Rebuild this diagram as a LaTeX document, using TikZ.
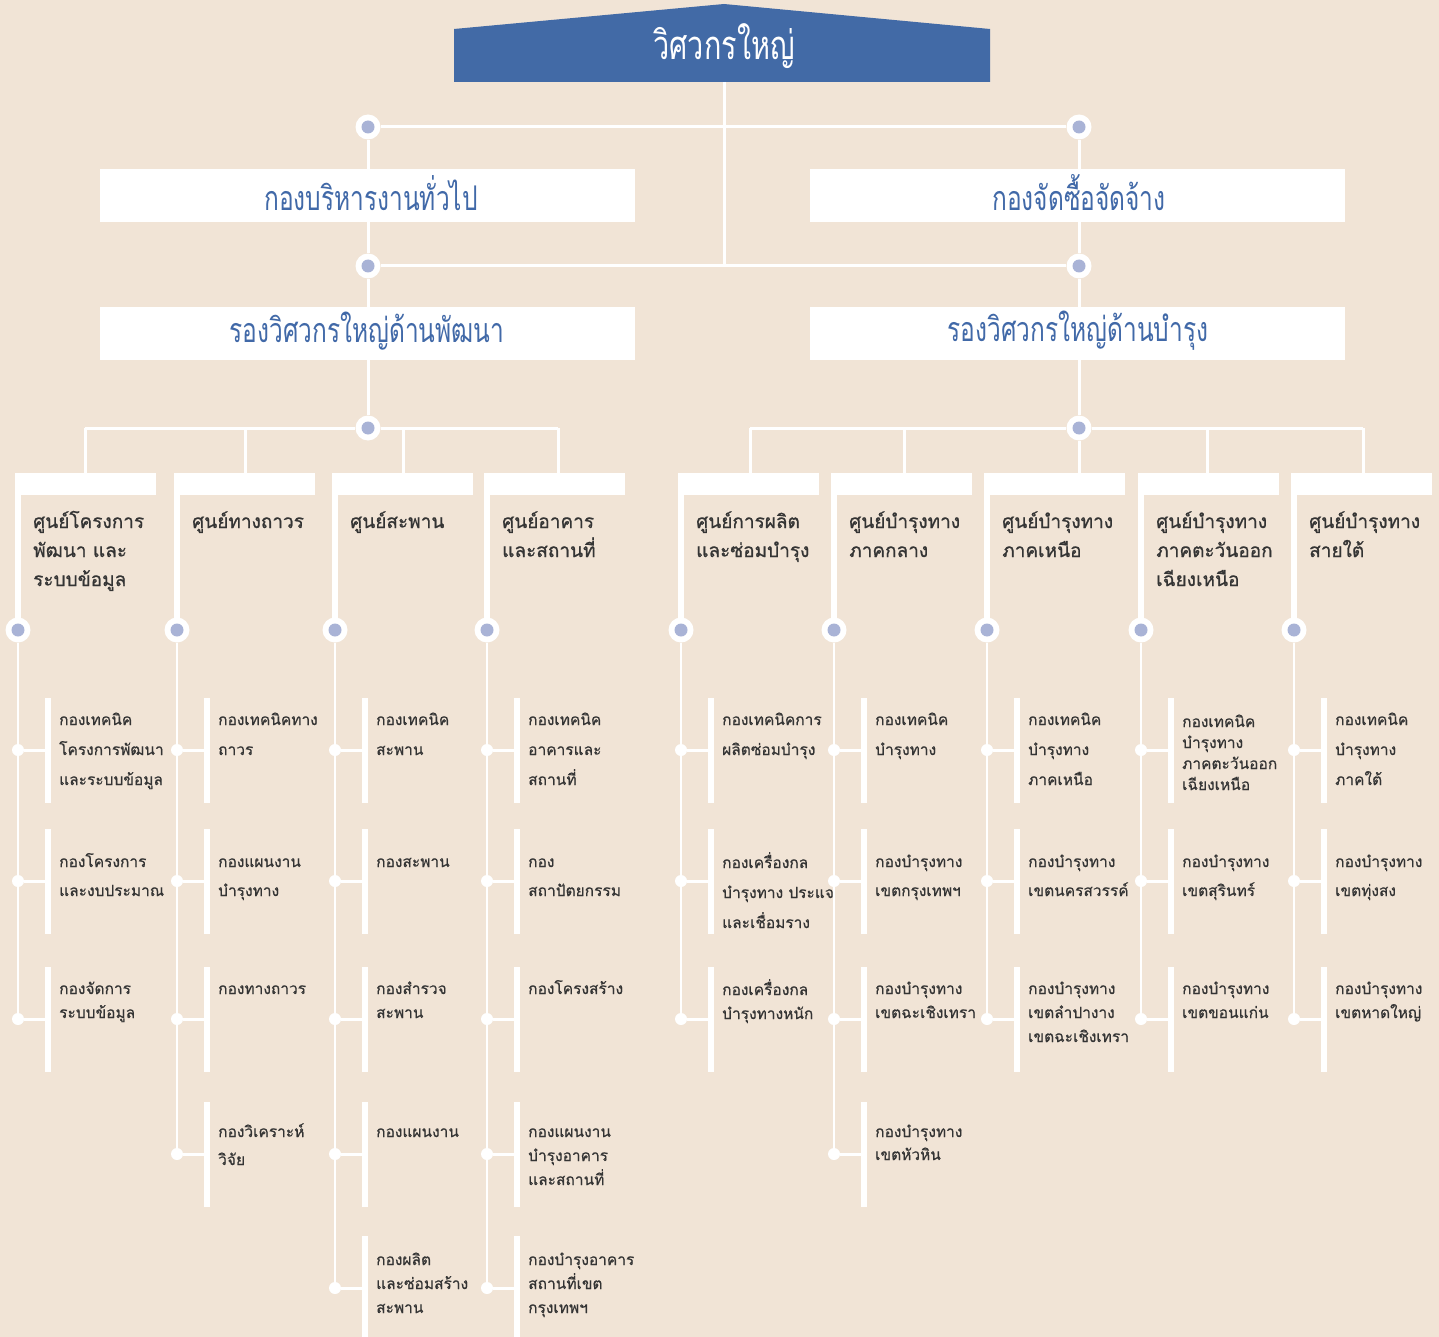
\documentclass[tikz,border=0pt]{standalone}
\usepackage{fontspec}
\newfontfamily\thai[Script=Thai,FakeBold=0.6]{Loma}
\newfontfamily\thaihead[Script=Thai,FakeBold=0.9]{Loma}
\newfontfamily\thaicond[Script=Thai,FakeStretch=0.72]{Loma}
\definecolor{bg}{RGB}{241,228,214}
\definecolor{chiefblue}{RGB}{66,106,166}
\definecolor{txtblue}{RGB}{65,105,168}
\definecolor{dotc}{RGB}{169,179,214}
\definecolor{txtdark}{RGB}{52,52,52}
\tikzset{
  link/.style={draw=white, line width=3pt},
  thinlink/.style={draw=white, line width=2.5pt},
  bigdot/.style={circle, fill=white, minimum size=25pt, inner sep=0pt,
    path picture={\fill[dotc] (path picture bounding box.center) circle (6.5pt);}},
  smalldot/.style={circle, fill=white, minimum size=12pt, inner sep=0pt},
  mainbox/.style={rectangle, fill=white, minimum width=535pt, minimum height=53pt,
    inner sep=0pt, text=txtblue},
  boxtext/.style={inner sep=0pt, text=txtblue, font=\thaicond\fontsize{34pt}{40pt}\selectfont},
  topbar/.style={rectangle, fill=white, minimum width=141pt, minimum height=22pt, inner sep=0pt},
  kidbar/.style={rectangle, fill=white, minimum width=6pt, minimum height=105pt, inner sep=0pt},
  headtext/.style={anchor=base west, inner sep=0pt, text=txtdark},
  kidtext/.style={anchor=base west, inner sep=0pt, text=txtdark},
}
% column header: name, left x, text
\newcommand\colhead[3]{%
  \node[topbar] (#1) at (#2+70.5,484) {};
  \fill[white] (#2,473) rectangle (#2+6,622);
  \node[bigdot] (#1d) at (#2+3,630) {};
  \node[headtext] (#1t) at (#2+18,528)
    {\parbox[t]{140pt}{\raggedright\thaihead\fontsize{19pt}{29pt}\selectfont #3}};
}
% child: name, left x, junction y, first baseline y, line skip, text
\newcommand\kid[6]{%
  \node[kidbar] (#1b) at (#2+33,#3) {};
  \node[smalldot] (#1) at (#2+3,#3) {};
  \draw[link] (#1) -- (#1b);
  \node[kidtext] (#1t) at (#2+44,#4)
    {\parbox[t]{150pt}{\raggedright\thai\fontsize{15.5pt}{#5pt}\selectfont #6}};
}
\begin{document}
\begin{tikzpicture}[x=1pt,y=-1pt]
\useasboundingbox (0,0) rectangle (1439,1337);
\fill[bg] (0,0) rectangle (1439,1337);

% chief
\fill[chiefblue] (454,82) -- (454,29) -- (724,4) -- (990,29) -- (990,82) -- cycle;
\node[text=white, font=\thaicond\fontsize{40pt}{46pt}\selectfont, inner sep=0pt] (chief) at (724,46) {วิศวกรใหญ่};
\coordinate (chiefbot) at (724,82);
\coordinate (midB) at (724,266);

% level dots and boxes
\node[bigdot] (dA1) at (368,127) {};
\node[bigdot] (dA2) at (1079,127) {};
\node[mainbox] (adm) at (367.5,195.5) {};
\node[mainbox] (proc) at (1077,195.5) {};
\node[boxtext] (admt) at (371,193) {กองบริหารงานทั่วไป};
\node[boxtext] (proct) at (1079,193) {กองจัดซื้อจัดจ้าง};
\node[bigdot] (dB1) at (368,266) {};
\node[bigdot] (dB2) at (1079,266) {};
\node[mainbox] (dev) at (367.5,333.5) {};
\node[mainbox] (mnt) at (1077,333.5) {};
\node[boxtext] (devt) at (367,331) {รองวิศวกรใหญ่ด้านพัฒนา};
\node[boxtext] (mntt) at (1078,331) {รองวิศวกรใหญ่ด้านบำรุง};
\node[bigdot] (dC1) at (368,428) {};
\node[bigdot] (dC2) at (1079,428) {};

\draw[link] (chiefbot) -- (midB);
\draw[link] (dA1) -- (dA2);
\draw[link] (dB1) -- (dB2);
\draw[link] (dA1) -- (dA1 |- adm.north);
\draw[link] (dA1 |- adm.south) -- (dB1);
\draw[link] (dB1) -- (dB1 |- dev.north);
\draw[link] (dB1 |- dev.south) -- (dC1);
\draw[link] (dA2) -- (dA2 |- proc.north);
\draw[link] (dA2 |- proc.south) -- (dB2);
\draw[link] (dB2) -- (dB2 |- mnt.north);
\draw[link] (dB2 |- mnt.south) -- (dC2);

% column headers
\colhead{c1}{15}{ศูนย์โครงการ\\พัฒนา และ\\ระบบข้อมูล}
\colhead{c2}{174}{ศูนย์ทางถาวร}
\colhead{c3}{332}{ศูนย์สะพาน}
\colhead{c4}{484}{ศูนย์อาคาร\\และสถานที่}
\colhead{c5}{678}{ศูนย์การผลิต\\และซ่อมบำรุง}
\colhead{c6}{831}{ศูนย์บำรุงทาง\\ภาคกลาง}
\colhead{c7}{984}{ศูนย์บำรุงทาง\\ภาคเหนือ}
\colhead{c8}{1138}{ศูนย์บำรุงทาง\\ภาคตะวันออก\\เฉียงเหนือ}
\colhead{c9}{1291}{ศูนย์บำรุงทาง\\สายใต้}

% branches to the column headers
\coordinate (L0) at (85,428);
\coordinate (L1) at (245,428);
\coordinate (L2) at (403,428);
\coordinate (L3) at (558,428);
\coordinate (R0) at (750,428);
\coordinate (R1) at (904,428);
\coordinate (R3) at (1207,428);
\coordinate (R4) at (1363,428);
\draw[link] (L0) -- (dC1) -- (L3);
\draw[link] (R0) -- (dC2) -- (R4);
\draw[link] (L0) -- (L0 |- c1.north);
\draw[link] (L1) -- (L1 |- c2.north);
\draw[link] (L2) -- (L2 |- c3.north);
\draw[link] (L3) -- (L3 |- c4.north);
\draw[link] (R0) -- (R0 |- c5.north);
\draw[link] (R1) -- (R1 |- c6.north);
\draw[link] (dC2) -- (dC2 |- c7.north);
\draw[link] (R3) -- (R3 |- c8.north);
\draw[link] (R4) -- (R4 |- c9.north);

% column 1
\kid{a1}{15}{750}{725}{30}{กองเทคนิค\\โครงการพัฒนา\\และระบบข้อมูล}
\kid{a2}{15}{881}{867}{29}{กองโครงการ\\และงบประมาณ}
\kid{a3}{15}{1019}{994}{24}{กองจัดการ\\ระบบข้อมูล}
\draw[thinlink] (c1d) -- (a3);
% column 2
\kid{b1}{174}{750}{725}{30}{กองเทคนิคทาง\\ถาวร}
\kid{b2}{174}{881}{867}{29}{กองแผนงาน\\บำรุงทาง}
\kid{b3}{174}{1019}{994}{24}{กองทางถาวร}
\kid{b4}{174}{1154}{1137}{28}{กองวิเคราะห์\\วิจัย}
\draw[thinlink] (c2d) -- (b4);
% column 3
\kid{e1}{332}{750}{725}{30}{กองเทคนิค\\สะพาน}
\kid{e2}{332}{881}{867}{29}{กองสะพาน}
\kid{e3}{332}{1019}{994}{24}{กองสำรวจ\\สะพาน}
\kid{e4}{332}{1154}{1137}{24}{กองแผนงาน}
\kid{e5}{332}{1288}{1265}{24}{กองผลิต\\และซ่อมสร้าง\\สะพาน}
\draw[thinlink] (c3d) -- (e5);
% column 4
\kid{f1}{484}{750}{725}{30}{กองเทคนิค\\อาคารและ\\สถานที่}
\kid{f2}{484}{881}{867}{29}{กอง\\สถาปัตยกรรม}
\kid{f3}{484}{1019}{994}{24}{กองโครงสร้าง}
\kid{f4}{484}{1154}{1137}{24}{กองแผนงาน\\บำรุงอาคาร\\และสถานที่}
\kid{f5}{484}{1288}{1265}{24}{กองบำรุงอาคาร\\สถานที่เขต\\กรุงเทพฯ}
\draw[thinlink] (c4d) -- (f5);
% column 5
\kid{g1}{678}{750}{725}{30}{กองเทคนิคการ\\ผลิตซ่อมบำรุง}
\kid{g2}{678}{881}{868}{30}{กองเครื่องกล\\บำรุงทาง ประแจ\\และเชื่อมราง}
\kid{g3}{678}{1019}{995}{24}{กองเครื่องกล\\บำรุงทางหนัก}
\draw[thinlink] (c5d) -- (g3);
% column 6
\kid{h1}{831}{750}{725}{30}{กองเทคนิค\\บำรุงทาง}
\kid{h2}{831}{881}{867}{29}{กองบำรุงทาง\\เขตกรุงเทพฯ}
\kid{h3}{831}{1019}{994}{24}{กองบำรุงทาง\\เขตฉะเชิงเทรา}
\kid{h4}{831}{1154}{1137}{23}{กองบำรุงทาง\\เขตหัวหิน}
\draw[thinlink] (c6d) -- (h4);
% column 7
\kid{k1}{984}{750}{725}{30}{กองเทคนิค\\บำรุงทาง\\ภาคเหนือ}
\kid{k2}{984}{881}{867}{29}{กองบำรุงทาง\\เขตนครสวรรค์}
\kid{k3}{984}{1019}{994}{24}{กองบำรุงทาง\\เขตลำปางาง\\เขตฉะเชิงเทรา}
\draw[thinlink] (c7d) -- (k3);
% column 8
\kid{m1}{1138}{750}{727}{21}{กองเทคนิค\\บำรุงทาง\\ภาคตะวันออก\\เฉียงเหนือ}
\kid{m2}{1138}{881}{867}{29}{กองบำรุงทาง\\เขตสุรินทร์}
\kid{m3}{1138}{1019}{994}{24}{กองบำรุงทาง\\เขตขอนแก่น}
\draw[thinlink] (c8d) -- (m3);
% column 9
\kid{n1}{1291}{750}{725}{30}{กองเทคนิค\\บำรุงทาง\\ภาคใต้}
\kid{n2}{1291}{881}{867}{29}{กองบำรุงทาง\\เขตทุ่งสง}
\kid{n3}{1291}{1019}{994}{24}{กองบำรุงทาง\\เขตหาดใหญ่}
\draw[thinlink] (c9d) -- (n3);
\end{tikzpicture}
\end{document}
